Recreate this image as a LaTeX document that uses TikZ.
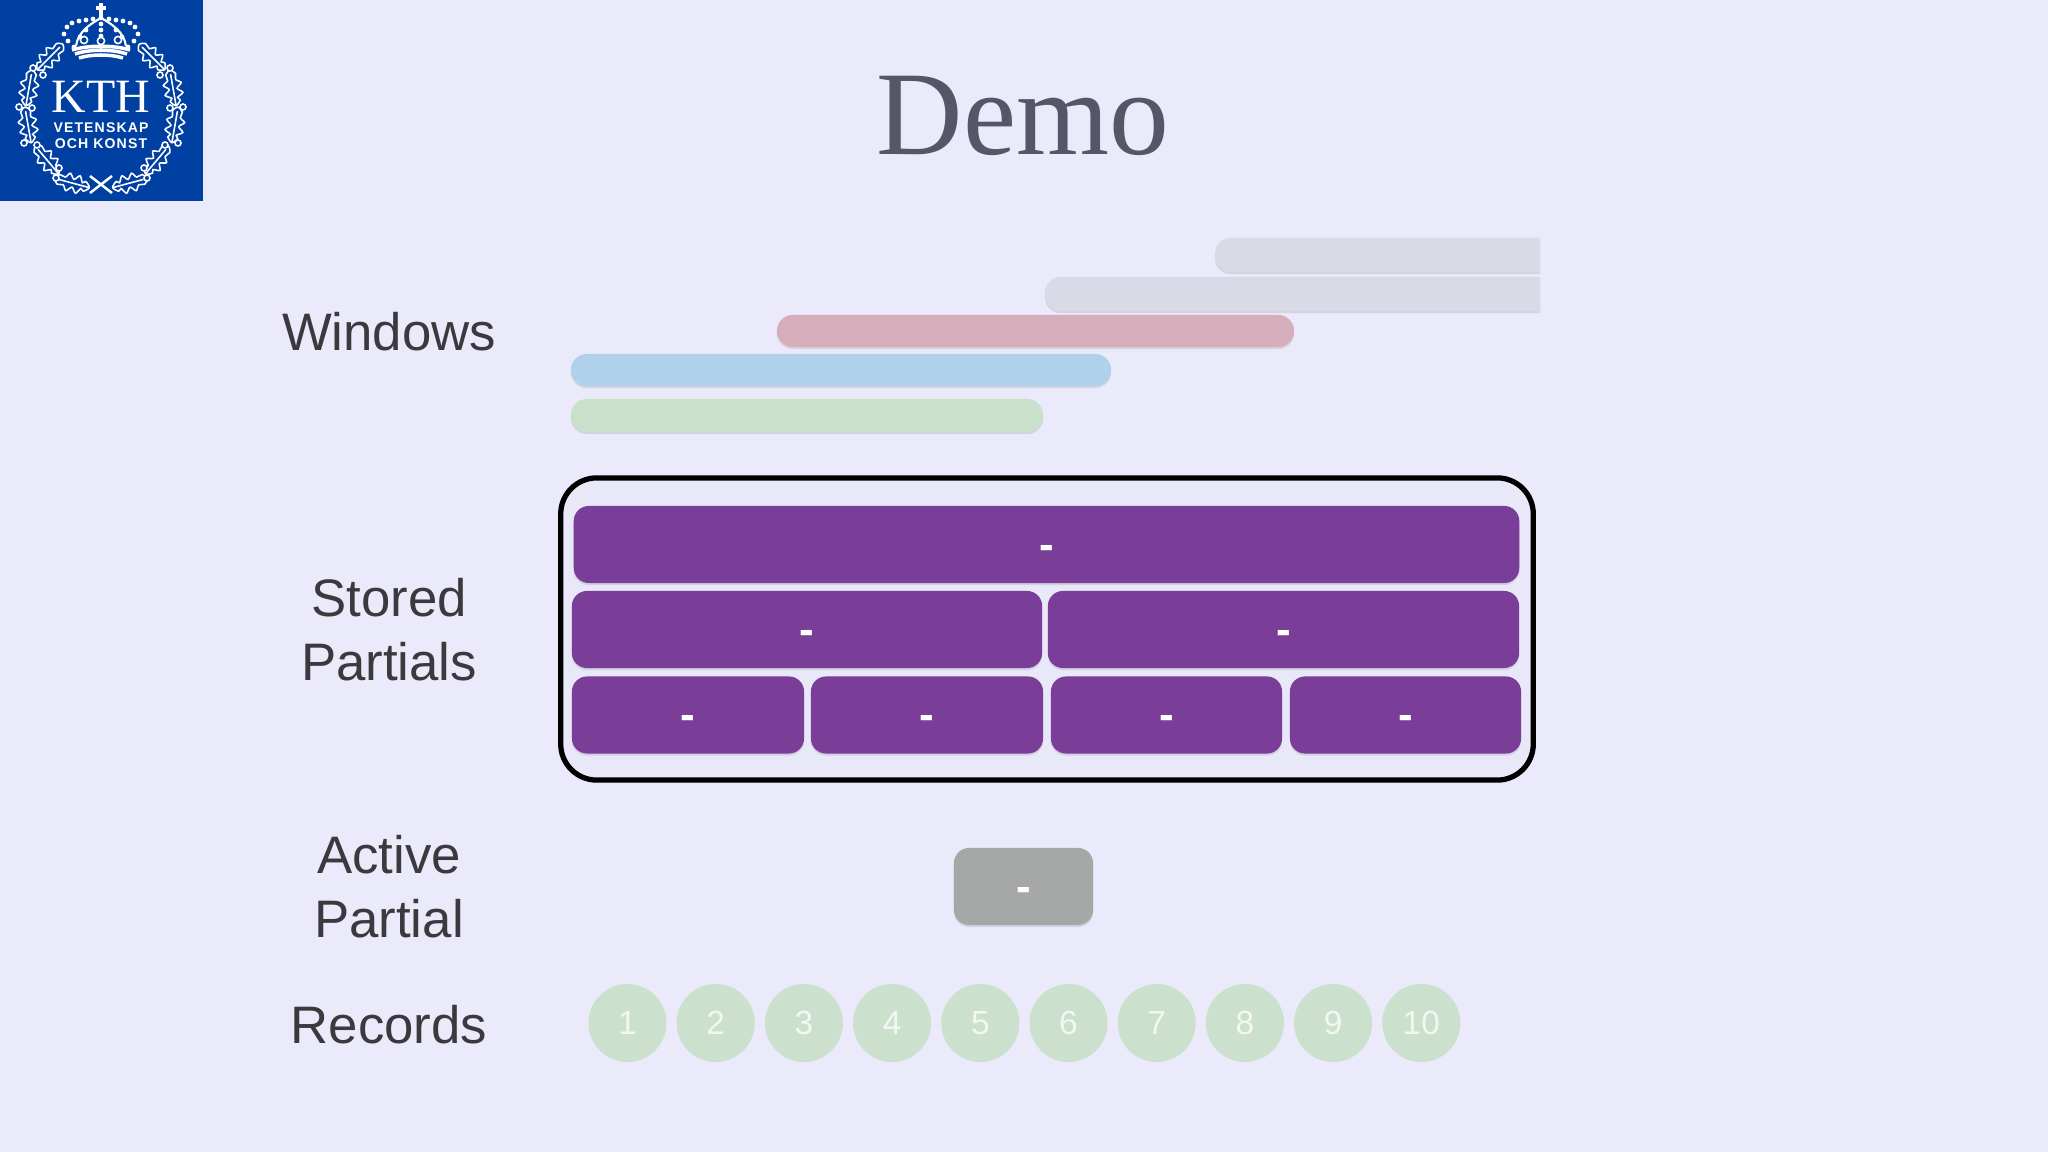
\documentclass[tikz,border=0pt]{standalone}
\usepackage{fontspec}
\usepackage{tikz}
\usetikzlibrary{shadows}
\setmainfont{Liberation Sans}
\newfontfamily\serifface{Liberation Serif}
\definecolor{slidebg}{HTML}{EAEAFA}
\definecolor{kthblue}{HTML}{0040A3}
\definecolor{titleslate}{HTML}{555668}
\definecolor{partialpurple}{HTML}{7A3D98}
\definecolor{activegray}{HTML}{A6A8A8}
\definecolor{recordgreen}{HTML}{CCE0CE}
\definecolor{wingray}{HTML}{D9DAE5}
\definecolor{winred}{HTML}{D6AEBB}
\definecolor{winblue}{HTML}{AFD1E9}
\definecolor{wingreen}{HTML}{C9E0CB}
\tikzset{
  softshadow/.style={drop shadow={shadow xshift=0pt,shadow yshift=-0.6pt,opacity=0.16,fill=black!60!slidebg}},
  winbar/.style={rounded corners=0.16cm,inner sep=0pt,softshadow},
  partial/.style={rounded corners=0.15cm,inner sep=0pt,minimum height=0.77cm,text=white,softshadow,
    font=\fontsize{12.5}{13}\selectfont\bfseries,text height=0.29cm,text depth=0pt},
  rowlabel/.style={align=center,text=black!75!slidebg,font=\fontsize{15}{18.2}\selectfont},
  record/.style={circle,fill=recordgreen,minimum size=0.78cm,inner sep=0pt,text=white!75!recordgreen,font=\fontsize{9.5}{10}\selectfont},
  logoline/.style={draw=white,line width=0.45pt,fill=kthblue},
  pics/oakleaf/.style={code={
    \draw[logoline] plot[smooth cycle] coordinates {(-18,0) (-13,-5) (-10,-3) (-6,-9) (-1,-4) (4,-9) (8,-4) (14,-5) (18,0) (14,5) (8,4) (4,9) (-1,4) (-6,9) (-10,3) (-13,5)};
    \draw[white,line width=0.45pt] (-18,0) -- (14,0);
  }}
}

\begin{document}
\begin{tikzpicture}[x=0.01cm,y=-0.01cm]
  \fill[slidebg] (0,0) rectangle (2048,1152);
  % logo
  \fill[kthblue] (0,0) rectangle (203,201);
  \foreach \px/\py/\ang in {50/57/45,29/88/80,28/125/100,47/160/130,72/183/165,152/57/135,173/88/100,175/125/80,157/160/50,130/183/15}
    \pic[rotate=\ang] at (\px,\py) {oakleaf};
  \foreach \px/\py in {33/68,43/75,19/107,32/108,24/143,37/145,59/168,56/178,170/68,160/75,183/107,170/108,178/143,165/145,144/168,147/178}
    \draw[logoline] (\px,\py) circle (3);
  \draw[white,line width=0.7pt] (90,176) -- (112,193) (112,176) -- (90,193);
  \draw[white,line width=1.2pt] (101,3) -- (101,18) (96,8) -- (106,8);
  \draw[white,line width=0.6pt] (76,46) .. controls (78,32) and (90,24) .. (101,18) .. controls (112,24) and (124,32) .. (126,46);
  \foreach \px/\py in {64/34,67/27,72/23,79/21,86/20,93/19,101/18,109/19,116/20,123/21,130/23,135/27,138/34,68/41,74/47,134/41,128/47,101/24,101/30,101/36,86/30,80/37,116/30,122/37}
    \fill[white] (\px,\py) circle (2.4);
  \foreach \px/\py in {84/40,101/41,118/40}
    \draw[logoline] (\px,\py) circle (3.6);
  \draw[white,line width=1pt] (72,50) .. controls (88,45) and (114,45) .. (130,50) (75,54) .. controls (90,49) and (112,49) .. (127,54) (79,58) .. controls (92,54) and (110,54) .. (123,58);
  \node[white,inner sep=0pt,font=\serifface\fontsize{13.6}{14}\selectfont] (ktlabel) at (101,97) {KTH};
  \node[white,inner sep=0pt,font=\addfontfeatures{LetterSpace=8}\fontsize{4}{5}\selectfont\bfseries] (vklabel) at (101,127.5) {VETENSKAP};
  \node[white,inner sep=0pt,font=\addfontfeatures{LetterSpace=8}\fontsize{4}{5}\selectfont\bfseries] (oklabel) at (101,143.5) {OCH KONST};
  % title
  \node[text=titleslate,font=\serifface\fontsize{34}{36}\selectfont] (title) at (1023,116) {Demo};
  % windows
  \node[rowlabel] (winlabel) at (389,332) {Windows};
  \begin{scope}
    \clip (500,220) rectangle (1540,330);
    \node[winbar,fill=wingray,minimum width=3.75cm,minimum height=0.34cm] (wingrayb) at (1402.5,255) {};
    \node[winbar,fill=wingray,minimum width=5.95cm,minimum height=0.34cm] (wingraya) at (1342.5,294) {};
  \end{scope}
  \node[winbar,fill=winred,minimum width=5.17cm,minimum height=0.32cm] (winr) at (1035.5,331) {};
  \node[winbar,fill=winblue,minimum width=5.40cm,minimum height=0.32cm] (winb) at (841,370) {};
  \node[winbar,fill=wingreen,minimum width=4.72cm,minimum height=0.33cm] (wing) at (807,415.5) {};
  % stored partials
  \node[rowlabel] (storedlabel) at (389,630) {Stored\\Partials};
  \node[draw=black,line width=1.5pt,rounded corners=0.36cm,fill=black!1!slidebg,minimum width=9.72cm,minimum height=3.02cm,inner sep=0pt,softshadow] (frame) at (1047,629) {};
  \node[partial,fill=partialpurple,minimum width=9.45cm] (top) at (1046.5,544.5) {-};
  \node[partial,fill=partialpurple,minimum width=4.70cm] (midl) at (807,629.5) {-};
  \node[partial,fill=partialpurple,minimum width=4.71cm] (midr) at (1283.5,629.5) {-};
  \node[partial,fill=partialpurple,minimum width=2.32cm] (lowa) at (688,715) {-};
  \node[partial,fill=partialpurple,minimum width=2.32cm] (lowb) at (927,715) {-};
  \node[partial,fill=partialpurple,minimum width=2.31cm] (lowc) at (1166.5,715) {-};
  \node[partial,fill=partialpurple,minimum width=2.31cm] (lowd) at (1405.5,715) {-};
  % active partial
  \node[rowlabel] (activelabel) at (389,887) {Active\\Partial};
  \node[partial,fill=activegray,minimum width=1.39cm] (active) at (1023.5,886.5) {-};
  % records
  \node[rowlabel] (recordlabel) at (389,1025) {Records};
  \foreach \i in {1,...,10}
    \node[record] (rec\i) at ({627.5+88.2*(\i-1)},1023) {\i};
\end{tikzpicture}
\end{document}
